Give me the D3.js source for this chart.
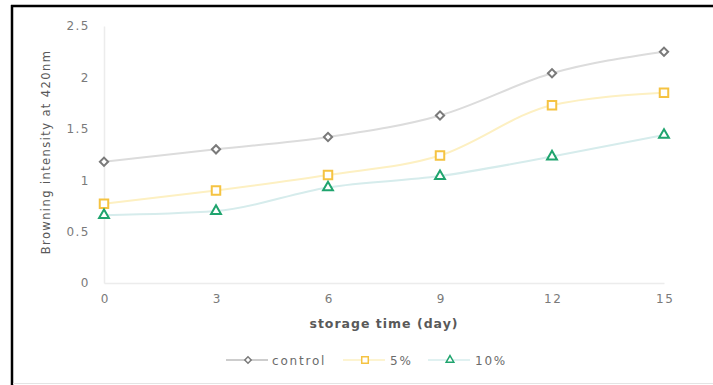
<!DOCTYPE html>
<html>
<head>
<meta charset="utf-8">
<script src="https://cdn.jsdelivr.net/npm/d3@7"></script>
<style>
  html, body { margin: 0; padding: 0; background: #fff; }
  svg { display: block; }
  text { font-family: "DejaVu Sans", Verdana, sans-serif; }
</style>
</head>
<body>
<svg id="chart" width="713" height="385"></svg>
<script>
// Storage days on the x axis
const days = [0, 3, 6, 9, 12, 15];
// Browning intensity (absorbance at 420 nm) per treatment
const control = [1.18, 1.30, 1.42, 1.63, 2.04, 2.25];
const pct5 = [0.77, 0.90, 1.05, 1.24, 1.73, 1.85];
const pct10 = [0.66, 0.70, 0.93, 1.04, 1.23, 1.44];
const seriesNames = ["control", "5%", "10%"];
const yTicks = [0, 0.5, 1, 1.5, 2, 2.5];

const series = [
  { name: seriesNames[0], values: control, line: "#dcdcdc", mark: "#7a7a7a", shape: d3.symbolSquare, rot: 45, size: 34 },
  { name: seriesNames[1], values: pct5, line: "#fdf0c2", mark: "#f5c342", shape: d3.symbolSquare, rot: 0, size: 72 },
  { name: seriesNames[2], values: pct10, line: "#d6ecec", mark: "#1fa46e", shape: d3.symbolTriangle, rot: 0, size: 42 }
];

const svg = d3.select("#chart");

// frame: dark left and top edges, faint bottom edge
svg.append("line").attr("x1", 12).attr("x2", 12).attr("y1", 5).attr("y2", 385)
  .attr("stroke", "#000").attr("stroke-width", 2.5);
svg.append("line").attr("x1", 11).attr("x2", 713).attr("y1", 6).attr("y2", 6)
  .attr("stroke", "#000").attr("stroke-width", 2.5);
svg.append("line").attr("x1", 13).attr("x2", 713).attr("y1", 383.5).attr("y2", 383.5)
  .attr("stroke", "#e4e4e4").attr("stroke-width", 1);

const x = d3.scaleLinear().domain([0, 15]).range([104, 664]);
const y = d3.scaleLinear().domain([0, 2.5]).range([283, 26]);

// axes
const xAxis = svg.append("g").attr("transform", `translate(0,${y(0)})`)
  .call(d3.axisBottom(x).tickValues(days).tickSize(0).tickPadding(11).tickFormat(d3.format("d")));
const yAxis = svg.append("g").attr("transform", `translate(${x(0)},0)`)
  .call(d3.axisLeft(y).tickValues(yTicks).tickSize(0).tickPadding(14).tickFormat(d => String(d)));
[xAxis, yAxis].forEach(g => {
  g.select(".domain").attr("stroke", "#ececec").attr("stroke-width", 1.5);
  g.selectAll("text").attr("fill", "#7a7a7a")
    .style("font-family", "'DejaVu Sans', sans-serif")
    .style("font-size", "12px").style("letter-spacing", "1.5px");
});
// keep the x tick digits centred despite the trailing letter spacing
xAxis.selectAll("text").attr("dx", "0.75px");

// axis titles
svg.append("text").attr("x", 384).attr("y", 328).attr("text-anchor", "middle")
  .attr("fill", "#595959").style("font-size", "12.5px").style("font-weight", "bold")
  .style("letter-spacing", "1px")
  .text("storage time (day)");
svg.append("text").attr("transform", `translate(50,152) rotate(-90)`).attr("text-anchor", "middle")
  .attr("fill", "#595959").style("font-size", "11.5px").style("letter-spacing", "1.4px")
  .text("Browning intensity at 420nm");

// series lines and markers
const line = d3.line().x((d, i) => x(days[i])).y(d => y(d)).curve(d3.curveMonotoneX);
series.forEach(s => {
  svg.append("path").datum(s.values).attr("d", line)
    .attr("fill", "none").attr("stroke", s.line).attr("stroke-width", 2);
  svg.append("g").selectAll("path").data(s.values).join("path")
    .attr("transform", (d, i) => `translate(${x(days[i])},${y(d)}) rotate(${s.rot})`)
    .attr("d", d3.symbol(s.shape, s.size))
    .attr("fill", "#fff").attr("stroke", s.mark).attr("stroke-width", 2);
});

// legend
const legendItems = [
  { s: series[0], cx: 248, tx: 272 },
  { s: series[1], cx: 365, tx: 390 },
  { s: series[2], cx: 450, tx: 475 }
];
const ly = 360;
legendItems.forEach(({ s, cx, tx }) => {
  svg.append("line").attr("x1", cx - 22).attr("x2", cx + 20).attr("y1", ly).attr("y2", ly)
    .attr("stroke", s === series[0] ? "#bdbdbd" : s.line).attr("stroke-width", 1.5);
  svg.append("path").attr("transform", `translate(${cx},${ly}) rotate(${s.rot})`)
    .attr("d", d3.symbol(s.shape, s.size * 0.6))
    .attr("fill", "#fff").attr("stroke", s.mark).attr("stroke-width", 1.5);
  svg.append("text").attr("x", tx).attr("y", ly + 4.5).attr("fill", "#6b6b6b")
    .style("font-size", "12px").style("letter-spacing", "1.8px").text(s.name);
});
</script>
</body>
</html>
